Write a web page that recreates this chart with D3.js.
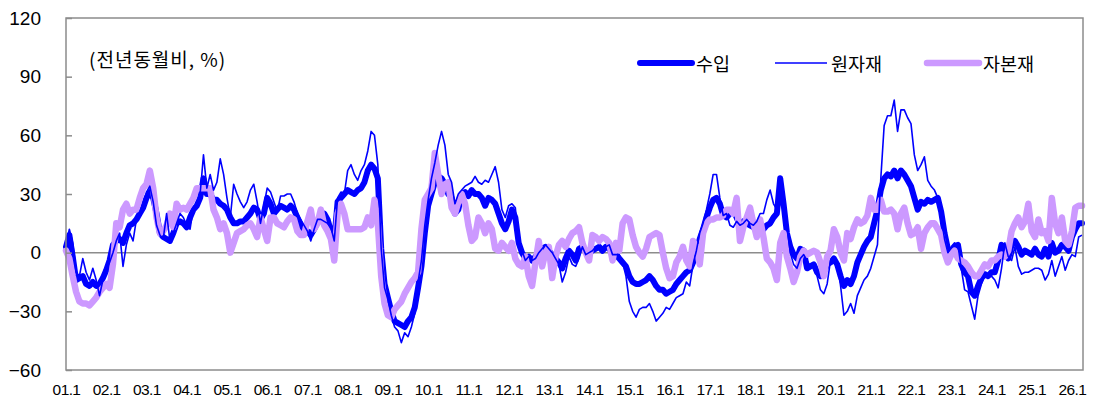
<!DOCTYPE html>
<html><head><meta charset="utf-8">
<script src="https://cdn.jsdelivr.net/npm/d3@7"></script>
<style>
html,body{margin:0;padding:0;background:#fff;}
svg{display:block;}
</style></head>
<body>
<svg id="c" width="1096" height="403"></svg>
<script>
// x tick labels (every January, 2001-2026)
const tickLabels = ["01.1","02.1","03.1","04.1","05.1","06.1","07.1","08.1","09.1","10.1","11.1","12.1","13.1","14.1","15.1","16.1","17.1","18.1","19.1","20.1","21.1","22.1","23.1","24.1","25.1","26.1"];
const yTicks = [-60,-30,0,30,60,90,120];
const seriesNames = ["수입","원자재","자본재"];

// monthly YoY %, Jan 2001 .. Apr 2026
const imports = [
  3, 9, -2, -14, -13, -12, -16, -17, -15, -17, -16, -13,
  -9, -4, 4, 6, 7, 5, 10, 14, 15, 17, 20, 23,
  28, 31, 28, 20, 10, 8, 7, 6, 10, 15, 16, 15,
  13, 18, 22, 24, 28, 38, 30, 30, 27, 27, 25, 24,
  22, 18, 15, 15, 16, 16, 18, 20, 23, 22, 17, 20,
  28, 25, 20, 22, 24, 23, 22, 24, 22, 18, 14, 12,
  11, 9, 12, 16, 19, 20, 17, 11, 6, 26, 28, 30,
  32, 31, 30, 32, 33, 36, 42, 45, 43, 38, 2, -16,
  -23, -30, -35, -36, -37, -38, -35, -33, -28, -18, -7, 10,
  24, 30, 36, 39, 38, 35, 30, 28, 20, 22, 30, 31,
  29, 32, 30, 30, 28, 24, 28, 27, 25, 20, 15, 12,
  16, 22, 18, 5, 0, -3, -2, -4, -2, 0, 2, 3,
  1, -1, -3, -5, -8, -3, 1, -1, -4, 2, 3, 1,
  0, 1, 2, 3, 1, 3, 2, 0, -1, -3, -5, -7,
  -12, -15, -16, -16, -15, -14, -12, -14, -17, -19, -19, -21,
  -20, -19, -16, -14, -12, -10, -9, -5, 0, 7, 12, 18,
  23, 27, 28, 25, 19, 18, 20, 22, 18, 14, 16, 15,
  14, 13, 13, 14, 12, 14, 15, 18, 20, 38, 25, 10,
  3, -1, -3, 2, 1, -8, -7, -6, -10, -12, -10, -6,
  -5, -3, -6, -12, -17, -14, -16, -12, -5, -1, 3, 6,
  8, 15, 22, 32, 38, 40, 39, 42, 38, 42, 40, 37,
  34, 28, 22, 26, 25, 27, 26, 27, 28, 21, 10, 2,
  0, 3, 4, -6, -10, -12, -20, -22, -17, -13, -11, -12,
  -10, -10, -4, 4, 2, -3, 4, 6, 3, -1, 1, 0,
  -1, 2, -1, -2, 2, -2, 5, 0, 1, 4, 3, 1,
  8, 12, 15, 15
];
const rawMaterials = [
  4, 12, 5, -10, -12, -3, -10, -14, -8, -14, -22, -14,
  -9, -5, 0, 6, 10, -7, 4, 10, 6, 17, 21, 25,
  31, 34, 26, 14, 9, 7, 20, 6, 10, 15, 20, 18,
  14, 12, 23, 24, 30, 50, 33, 40, 32, 36, 48, 40,
  28, 18, 35, 30, 26, 23, 26, 32, 35, 26, 15, 24,
  33, 31, 26, 21, 29, 29, 30, 30, 26, 20, 17, 14,
  11, 6, 12, 17, 17, 16, 15, 13, 6, 28, 31, 30,
  42, 45, 40, 37, 42, 45, 52, 62, 60, 45, 2, -18,
  -24, -32, -38, -40, -46, -41, -43, -38, -31, -15, -4, 14,
  27, 38, 46, 55, 62, 55, 40, 36, 25, 30, 32, 34,
  35, 36, 39, 36, 35, 37, 36, 40, 44, 36, 22, 18,
  24, 25, 23, 5, 1, -4, -2, -4, -3, 0, 2, 4,
  2, 0, -3, -6, -15, -10, -2, -6, -7, -3, 3, -1,
  0, 1, 3, 2, 1, 3, 4, -1, -1, -1, -5, -12,
  -25, -30, -33, -29, -28, -28, -26, -30, -35, -33, -31, -28,
  -29, -26, -23, -22, -21, -15, -17, -6, 1, 10, 15, 22,
  30, 40, 40, 28, 19, 20, 14, 13, 16, 14, 15, 17,
  15, 14, 16, 20, 20, 27, 32, 25, 22, 38, 30, 14,
  0, -6, -8, -3, -1, -4, -7, -6, -12, -19, -21, -16,
  -4, -4, -5, -17, -32, -30, -26, -31, -22, -18, -14, -12,
  -8, -2, 4, 38, 65, 70, 70, 78, 62, 73, 73, 69,
  66, 50, 42, 45, 49, 37, 34, 32, 28, 18, 7, 0,
  3, 5, 4, -8, -19, -20, -27, -34, -22, -16, -12, -11,
  -12, -14, -18, -8, 5, -2, -4, 3, -7, -11, -10, -10,
  -9, -8, -8, -9, -14, -11, -4, -12, -7, -2, -9, -4,
  -1, -2, 8, 9
];
const capitalGoods = [
  1, -3, -12, -20, -25, -26, -26, -27, -25, -23, -20, -18,
  -16, -18, -6, 15, 13, 22, 25, 20, 22, 22, 28, 33,
  35, 42, 33, 18, 10, 11, 14, 20, 13, 25, 22, 23,
  22, 25, 28, 33, 33, 33, 33, 33, 22, 18, 12, 15,
  10, 0, 5, 10, 11, 12, 14, 15, 12, 8, 18, 12,
  6, 18, 18, 15, 14, 13, 16, 18, 17, 11, 9, 9,
  16, 22, 12, 15, 22, 14, 11, 7, -4, 20, 25, 20,
  12, 12, 12, 12, 12, 13, 18, 14, 27, 15, -12, -26,
  -32, -33, -29, -27, -25, -21, -18, -15, -13, -10, 12, 27,
  30, 33, 51, 40, 30, 35, 36, 23, 20, 26, 30, 25,
  14, 6, 8, 18, 15, 10, 15, 12, 2, 1, 5, 3,
  1, 5, -3, -6, -7, -2, -12, -17, -5, 6, -7, 0,
  3, -13, -2, 4, 6, 3, 7, 10, 11, 13, 5, 0,
  -4, 9, 8, 6, 8, 7, 5, -4, 5, 1, 15, 18,
  17, 9, 3, 0, -2, 2, 8, 9, 10, 9, 0, -8,
  -13, -12, -5, -2, 3, -4, -7, 6, 3, -6, 10, 15,
  17, 17, 18, 18, 19, 22, 22, 20, 28, 6, 13, 18,
  23, 15, 8, 17, 8, -3, -5, -8, -14, 5, 10, -2,
  -8, -15, -10, -2, 1, -1, 0, 1, 0, -5, -12, -2,
  1, 12, 8, 0, -4, 10, 7, 13, 17, 15, 16, 19,
  28, 22, 22, 27, 21, 21, 22, 20, 12, 20, 23, 15,
  9, 10, 13, 2, 10, 13, 15, 15, 12, 9, 0, -5,
  -1, 1, -3, -4, -5, -7, -10, -12, -12, -9, -6, -7,
  -4, -4, -2, -1, -2, 1, 11, 15, 18, 13, 16, 25,
  11, 8, 17, 10, 11, 6, 28, 15, 10, 18, 6, 4,
  11, 23, 24, 24
];

const W = 1096, H = 403;
const m = {left: 66, right: 1083, top: 18, bottom: 370};
const svg = d3.select("#c");

const nMonths = imports.length;
const x = d3.scaleLinear().domain([0, nMonths - 0.7]).range([m.left, m.right]);
const y = d3.scaleLinear().domain([-60, 120]).range([m.bottom, m.top]);

const gridColor = "#8c8c8c";
const numFont = "'Liberation Sans', Arial, sans-serif";
const krFont = "'Noto Sans CJK KR', 'Noto Sans', sans-serif";

// zero line
svg.append("line")
  .attr("x1", m.left).attr("x2", m.right)
  .attr("y1", y(0)).attr("y2", y(0))
  .attr("stroke", gridColor).attr("stroke-width", 1.5);

// series
const line = d3.line().x((d, i) => x(i)).y(d => y(d));
const g = svg.append("g");
g.append("path").datum(imports).attr("d", line)
  .attr("fill", "none").attr("stroke", "#0000ff").attr("stroke-width", 6)
  .attr("stroke-linejoin", "round").attr("stroke-linecap", "round");
g.append("path").datum(capitalGoods).attr("d", line)
  .attr("fill", "none").attr("stroke", "#cc99ff").attr("stroke-width", 6.5)
  .attr("stroke-linejoin", "round").attr("stroke-linecap", "round");
g.append("path").datum(rawMaterials).attr("d", line)
  .attr("fill", "none").attr("stroke", "#0000ff").attr("stroke-width", 1.6)
  .attr("stroke-linejoin", "round");

// frame
svg.append("rect")
  .attr("x", m.left).attr("y", m.top)
  .attr("width", m.right - m.left).attr("height", m.bottom - m.top)
  .attr("fill", "none").attr("stroke", gridColor).attr("stroke-width", 1.5);

// y axis
const yAxis = d3.axisLeft(y).tickValues(yTicks).tickSize(-6).tickPadding(25);
const ya = svg.append("g").attr("transform", `translate(${m.left},0)`).call(yAxis);
ya.select(".domain").remove();
ya.selectAll(".tick line").attr("stroke", gridColor).attr("stroke-width", 1.5);
ya.selectAll("text").attr("font-family", numFont).attr("font-size", 19).attr("fill", "#000");

// x axis
const xAxis = d3.axisBottom(x).tickValues(d3.range(0, 301, 12))
  .tickFormat((d, i) => tickLabels[i]).tickSize(0).tickPadding(14);
const xa = svg.append("g").attr("transform", `translate(0,${m.bottom})`).call(xAxis);
xa.select(".domain").remove();
xa.selectAll("text").attr("font-family", numFont).attr("font-size", 15.5)
  .attr("letter-spacing", "-0.6").attr("fill", "#000");

// unit note
svg.append("text").attr("x", 89).attr("y", 58)
  .attr("dominant-baseline", "central")
  .attr("font-family", krFont).attr("font-size", 19).attr("letter-spacing", "1")
  .attr("fill", "#000")
  .text("(전년동월비, %)");

// legend
const legend = [
  {name: seriesNames[0], x1: 640, x2: 692, color: "#0000ff", w: 6, cap: "round"},
  {name: seriesNames[1], x1: 775, x2: 827, color: "#0000ff", w: 1.6, cap: "butt"},
  {name: seriesNames[2], x1: 927, x2: 979, color: "#cc99ff", w: 6.5, cap: "round"}
];
const lg = svg.append("g");
legend.forEach(d => {
  lg.append("line").attr("x1", d.x1).attr("x2", d.x2).attr("y1", 63).attr("y2", 63)
    .attr("stroke", d.color).attr("stroke-width", d.w).attr("stroke-linecap", d.cap);
  lg.append("text").attr("x", d.x2 + 4).attr("y", 63)
    .attr("dominant-baseline", "central")
    .attr("font-family", krFont).attr("font-size", 18.5).attr("fill", "#000")
    .text(d.name);
});
</script>
</body></html>
